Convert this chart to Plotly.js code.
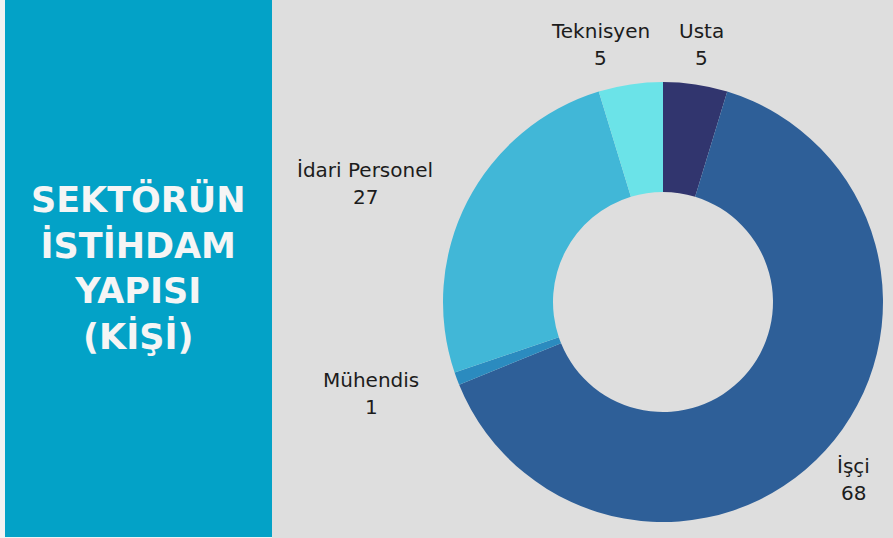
<!DOCTYPE html>
<html>
<head>
<meta charset="utf-8">
<script src="https://cdn.plot.ly/plotly-3.0.1.min.js"></script>
<style>html,body{margin:0;padding:0;background:#dedede;}#chart{width:893px;height:538px;}</style>
</head>
<body>
<div id="chart"></div>
<script>
// Data
const categories = ["Usta", "İşçi", "Mühendis", "İdari Personel", "Teknisyen"];
const values = [5, 68, 1, 27, 5];
const sliceColors = ["#31356e", "#2e5f98", "#2b8bbf", "#41b7d7", "#6be3e8"];
const titleLines = ["SEKTÖRÜN", "İSTİHDAM", "YAPISI", "(KİŞİ)"];

// Layout constants (label anchor pixels: [x, y of name line])
const W = 893, H = 538;
const labelAnchors = [[701, 31], [853, 466], [371, 380], [365, 170], [600, 31]];
const valueGap = 27;

const px = x => x / W;
const py = y => 1 - y / H;

const annotations = [];
categories.forEach((c, i) => {
  const [ax, ay] = labelAnchors[i];
  annotations.push({xref:'paper', yref:'paper', x:px(ax), y:py(ay), text:c, showarrow:false,
    xanchor:'center', yanchor:'middle', font:{family:'DejaVu Sans', size:20, color:'#1c1c1c'}});
  annotations.push({xref:'paper', yref:'paper', x:px(ax), y:py(ay + valueGap), text:String(values[i]), showarrow:false,
    xanchor:'center', yanchor:'middle', font:{family:'DejaVu Sans', size:20, color:'#1c1c1c'}});
});
annotations.push({xref:'paper', yref:'paper', x:px(138.5), y:py(268), text:titleLines.map(t=>'<b>'+t+'</b>').join('<br>'),
  showarrow:false, xanchor:'center', yanchor:'middle', align:'center',
  font:{family:'DejaVu Sans', size:35, color:'#f5f5f5'}});

const data = [{
  type:'pie', labels:categories, values:values, hole:0.5, sort:false, direction:'clockwise', rotation:0,
  marker:{colors:sliceColors, line:{width:0}}, textinfo:'none', hoverinfo:'label+value',
  domain:{x:[px(442), px(884)], y:[py(522), py(82)]}, showlegend:false
}];

const layout = {
  width:W, height:H, margin:{l:0, r:0, t:0, b:0},
  paper_bgcolor:'#dedede', plot_bgcolor:'#dedede', showlegend:false,
  shapes:[
    {type:'rect', xref:'paper', yref:'paper', x0:0, x1:px(5), y0:0, y1:1, fillcolor:'#f2f2f2', line:{width:0}, layer:'below'},
    {type:'rect', xref:'paper', yref:'paper', x0:px(5), x1:px(272), y0:py(537), y1:1, fillcolor:'#03a2c7', line:{width:0}, layer:'below'},
    {type:'rect', xref:'paper', yref:'paper', x0:px(5), x1:px(272), y0:0, y1:py(537), fillcolor:'#f2f2f2', line:{width:0}, layer:'below'}
  ],
  annotations:annotations
};

Plotly.newPlot('chart', data, layout, {staticPlot:true, displayModeBar:false});
</script>
</body>
</html>
